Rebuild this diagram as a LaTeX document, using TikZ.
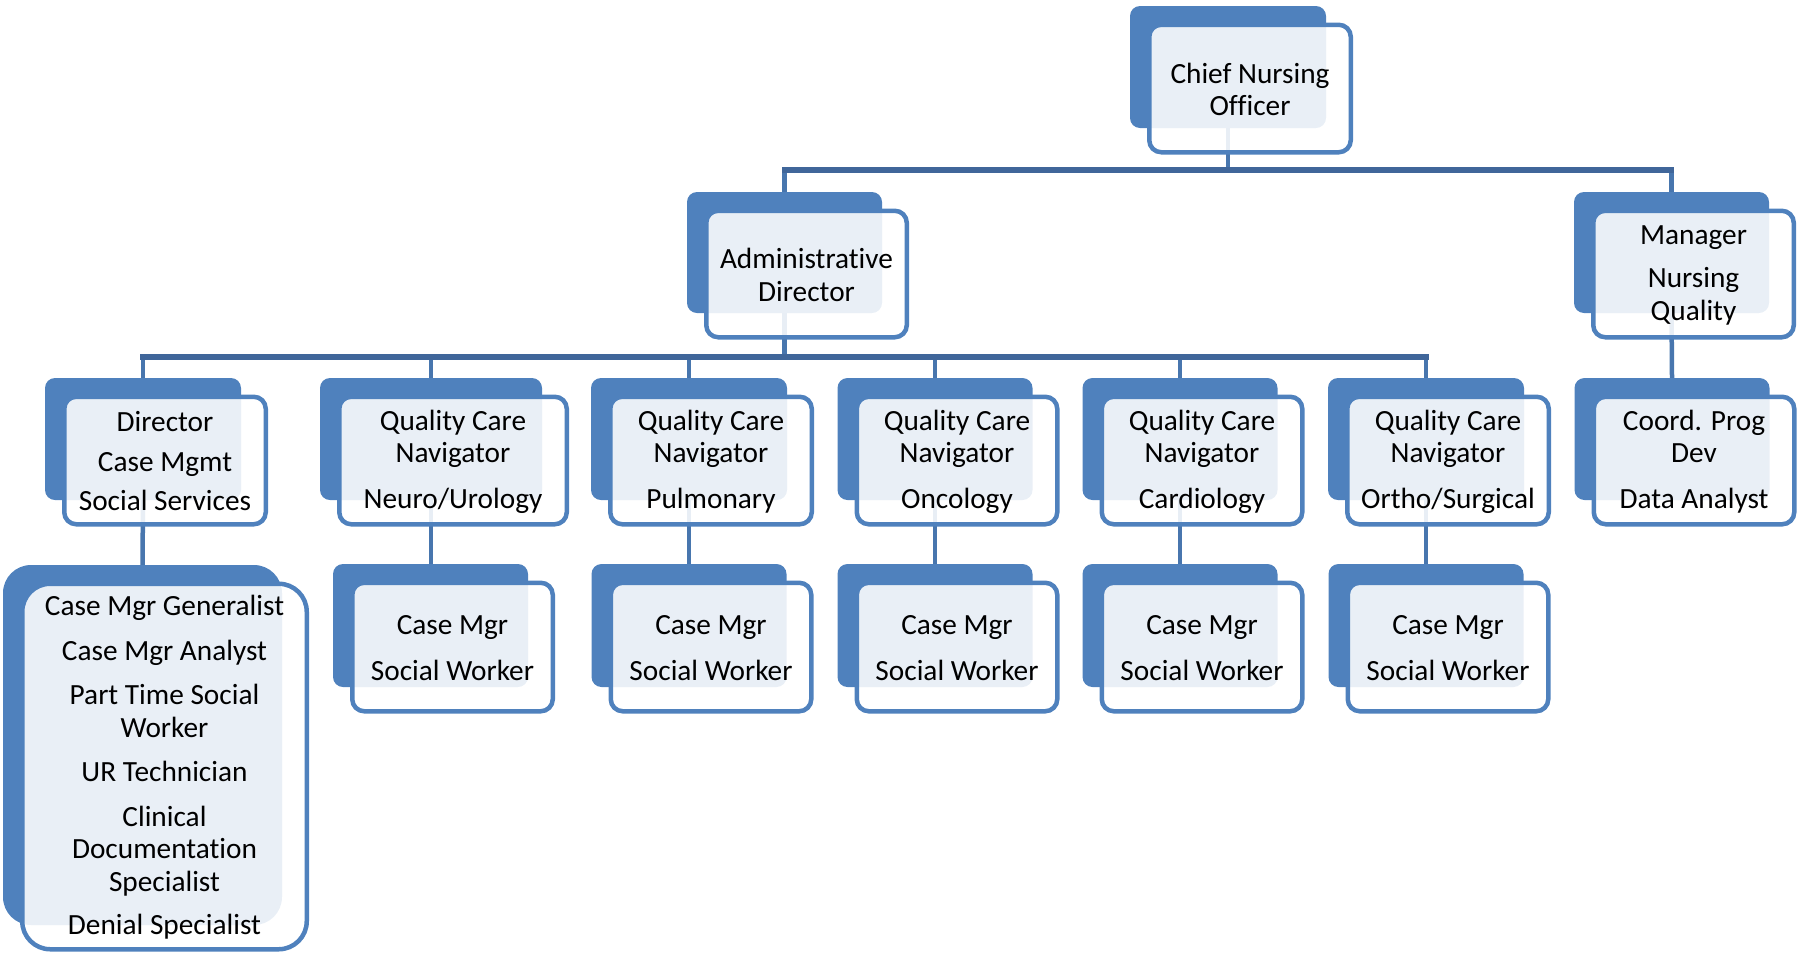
\documentclass[tikz,border=0pt]{standalone}
\usepackage{fontspec}
\setmainfont{Carlito}[Ligatures=NoCommon]
\pgfdeclarelayer{background}
\pgfsetlayers{background,main}
\definecolor{boxblue}{RGB}{79,129,189}
\definecolor{stubblue}{RGB}{72,118,174}
\definecolor{barblue}{RGB}{64,102,154}

\tikzset{
  backbox/.style={fill=boxblue, draw=none, rounded corners=10pt, inner sep=0pt, outer sep=0pt},
  frontbox/.style={draw=boxblue, line width=4.5pt, fill=white, fill opacity=0.88,
    rounded corners=12pt, inner sep=0pt, outer sep=0pt},
  cardtext/.style={inner sep=0pt, align=center, text=black,
    font=\fontsize{29.3}{32.5}\selectfont},
  stub/.style={draw=stubblue, line width=4.5pt},
  barline/.style={draw=barblue, line width=5.5pt, line cap=rect},
}

% #1 name, #2 centre x, #3 centre y (of the back plate), #4 width, #5 height, #6 label
\newcommand\orgunit[6]{%
  \node[backbox, minimum width=#4, minimum height=#5] (#1-b) at (#2,#3) {};
  \node[frontbox, minimum width=#4+5.5, minimum height=#5+5.5] (#1) at (#2+22,#3+21.5) {};
  \node[cardtext] (#1-t) at ([yshift=-1pt]#1.center) {#6};
}

\begin{document}
\begin{tikzpicture}[x=1pt, y=-1pt]
\useasboundingbox (0,0) rectangle (1803,954);

% top level
\orgunit{cno}{1228}{67}{196}{122}{Chief Nursing\\Officer}

% second level
\orgunit{ad}{784.5}{252.5}{195}{121}{Administrative\\Director}
\orgunit{mgr}{1671.5}{252.5}{195}{121}{Manager\\[11pt]Nursing\\Quality}

% third level
\orgunit{dir}{143}{439}{196}{122}{Director\\[7pt]Case Mgmt\\[7pt]Social Services}
\orgunit{neuro}{431}{439}{222}{122}{Quality Care\\Navigator\\[13pt]Neuro/Urology}
\orgunit{pulm}{689}{439}{196}{122}{Quality Care\\Navigator\\[13pt]Pulmonary}
\orgunit{onc}{935}{439}{195}{122}{Quality Care\\Navigator\\[13pt]Oncology}
\orgunit{card}{1180}{439}{195}{122}{Quality Care\\Navigator\\[13pt]Cardiology}
\orgunit{ortho}{1426}{439}{196}{122}{Quality Care\\Navigator\\[13pt]Ortho/Surgical}
\orgunit{coord}{1672}{439}{195}{122}{Coord. Prog\\Dev\\[13pt]Data Analyst}

% fourth level
\orgunit{cmneuro}{430.5}{625.5}{195}{123}{Case Mgr\\[13pt]Social Worker}
\orgunit{cmpulm}{689}{625.5}{195}{123}{Case Mgr\\[13pt]Social Worker}
\orgunit{cmonc}{935}{625.5}{195}{123}{Case Mgr\\[13pt]Social Worker}
\orgunit{cmcard}{1180}{625.5}{195}{123}{Case Mgr\\[13pt]Social Worker}
\orgunit{cmortho}{1426}{625.5}{195}{123}{Case Mgr\\[13pt]Social Worker}

% case management staff (larger card with wider corners)
\begin{scope}[backbox/.append style={rounded corners=28pt},
              frontbox/.append style={rounded corners=28pt}]
\orgunit{staff}{142.5}{745}{279}{360}{Case Mgr Generalist\\[12pt]Case Mgr Analyst\\[12pt]Part Time Social\\Worker\\[12pt]UR Technician\\[12pt]Clinical\\Documentation\\Specialist\\[11pt]Denial Specialist}
\end{scope}

% connectors, kept behind the cards
\begin{pgfonlayer}{background}
  \coordinate (bar1) at (0,170);
  \coordinate (bar2) at (0,357);
  % CNO to level two
  \draw[stub] (cno-b.south) -- (cno-b.south |- bar1);
  \draw[stub] (ad-b.north) -- (ad-b.north |- bar1);
  \draw[stub] (mgr-b.north) -- (mgr-b.north |- bar1);
  \draw[barline] (ad-b.north |- bar1) -- (mgr-b.north |- bar1);
  % administrative director to level three
  \draw[stub] (ad-b.south) -- (ad-b.south |- bar2);
  \foreach \n in {dir,neuro,pulm,onc,card,ortho}
    \draw[stub] (\n-b.north) -- (\n-b.north |- bar2);
  \draw[barline] (dir-b.north |- bar2) -- (ortho-b.north |- bar2);
  % manager to coordinator
  \draw[stub] (mgr-b.south) -- (coord-b.north);
  % navigators to case managers
  \draw[stub] (dir-b.south) -- (staff-b.north);
  \draw[stub] (neuro-b.south) -- (neuro-b.south |- cmneuro-b.north);
  \draw[stub] (pulm-b.south) -- (cmpulm-b.north);
  \draw[stub] (onc-b.south) -- (cmonc-b.north);
  \draw[stub] (card-b.south) -- (cmcard-b.north);
  \draw[stub] (ortho-b.south) -- (cmortho-b.north);
\end{pgfonlayer}
\end{tikzpicture}
\end{document}
